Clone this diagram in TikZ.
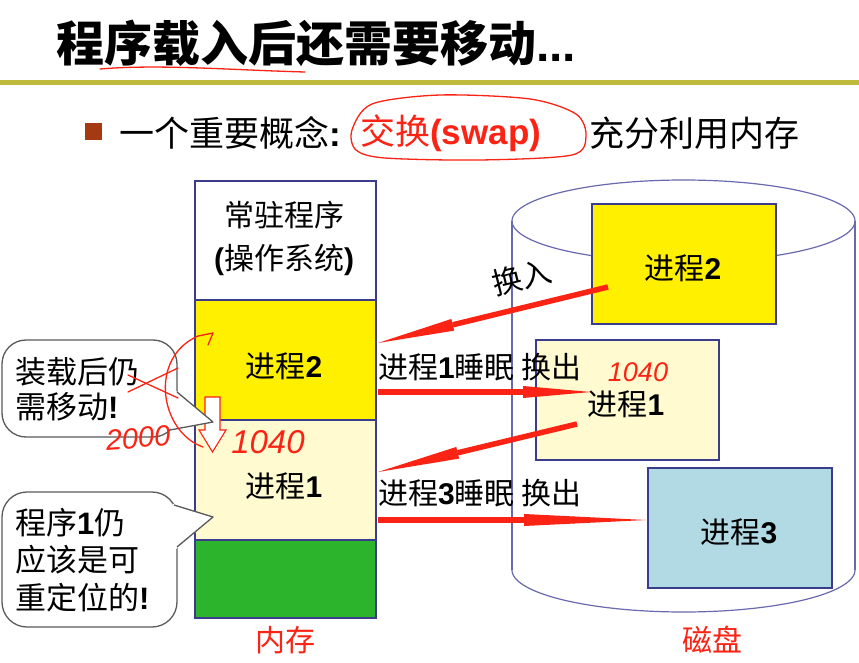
\documentclass[tikz,border=0pt]{standalone}
\usepackage{fontspec}
\setmainfont{Noto Sans CJK SC}
\newfontfamily\lat{Liberation Sans}
\usetikzlibrary{calc}
\definecolor{redA}{RGB}{250,35,20}
\definecolor{oliveline}{RGB}{189,186,60}
\definecolor{memborder}{RGB}{60,60,140}
\definecolor{diskline}{RGB}{105,105,175}
\definecolor{pyellow}{RGB}{255,240,0}
\definecolor{plight}{RGB}{255,250,208}
\definecolor{pgreen}{RGB}{44,180,44}
\definecolor{pblue}{RGB}{178,218,228}
\definecolor{bulletbrown}{RGB}{165,58,18}
\definecolor{calloutline}{RGB}{90,90,90}
\newcommand{\fs}[2]{\fontsize{#1}{#2}\selectfont}
\newcommand{\dg}[1]{{\lat\bfseries #1}}
% thick red swap arrow with a long thin head: start, end, head length
\newcommand{\swaparr}[3]{%
  \coordinate (hb) at ($(#2)!#3!(#1)$);
  \draw[swaparrow] (#1) -- (hb);
  \fill[redA] ($(hb)!6pt!90:(#2)$) -- (#2) -- ($(hb)!6pt!-90:(#2)$) -- cycle;}
\begin{document}
\begin{tikzpicture}[x=1pt,y=-1pt,
  memblk/.style={draw=memborder,line width=1.5pt,minimum width=181pt,inner sep=0pt},
  dskblk/.style={draw=memborder,line width=1.5pt,minimum width=184pt,minimum height=120pt,inner sep=0pt},
  swaparrow/.style={draw=redA,line width=5.5pt},
  hand/.style={draw=redA,line width=1.3pt,line cap=round,line join=round},
  lbl/.style={inner sep=0pt,font=\fs{30}{36}},
  handtext/.style={inner sep=0pt,text=redA,font=\lat\itshape\fs{29}{29}},
  cbox/.style={draw=calloutline,line width=1.3pt,fill=white},
  cptr/.style={draw=calloutline,line width=1.3pt,line join=round}
]
\useasboundingbox (0,0) rectangle (859,663);
\fill[white] (0,0) rectangle (859,663);

% title
\node[anchor=west,inner sep=0pt,font=\fs{48}{52}\bfseries] (title) at (56,43) {程序载入后还需要移动\dg{...}};
\draw[oliveline,line width=5pt] (0,83) -- (859,83);

% bullet line
\node[fill=bulletbrown,minimum size=17pt,inner sep=0pt] (bullet) at (93.5,131.5) {};
\node[anchor=west,inner sep=0pt,font=\fs{35}{40}] (bt) at (119,133) {一个重要概念\dg{:}};
\node[anchor=west,inner sep=0pt,font=\fs{35}{40},text=redA] (swap) at (360,133) {交换\dg{(swap)}};
\node[anchor=west,inner sep=0pt,font=\fs{35}{40}] (rest) at (589,133) {充分利用内存};

% disk cylinder
\draw[diskline,line width=1.2pt] plot[domain=0:360,samples=140,smooth] ({683.5+171.5*cos(\x)},{221+41*sin(\x)});
\draw[diskline,line width=1.2pt] (512,221) -- (512,570);
\draw[diskline,line width=1.2pt] (855,221) -- (855,570);
\draw[diskline,line width=1.2pt] plot[domain=0:180,samples=90,smooth] ({683.5+171.5*cos(\x)},{570+42*sin(\x)});

% disk blocks
\node[dskblk,fill=pyellow] (d2) at (684,264) {};
\node[dskblk,fill=plight,minimum width=183pt] (d1) at (627.5,400) {};
\node[dskblk,fill=pblue] (d3) at (740,528) {};
\node[lbl] (d2t) at (683,268) {进程\dg{2}};
\node[lbl] (d1t) at (626,404) {进程\dg{1}};
\node[lbl] (d3t) at (739,532) {进程\dg{3}};

% memory column
\node[memblk,fill=white,minimum height=119pt] (os) at (285.5,240.5) {};
\node[memblk,fill=pyellow,minimum height=120pt] (m2) at (285.5,360) {};
\node[memblk,fill=plight,minimum height=120pt] (m1) at (285.5,480) {};
\node[memblk,fill=pgreen,minimum height=78pt] (mg) at (285.5,579) {};
\node[lbl,align=center,font=\fs{30}{43}] (ost) at (284,238) {常驻程序\\\dg{(}操作系统\dg{)}};
\node[lbl] (m2t) at (284,366) {进程\dg{2}};
\node[lbl] (m1t) at (284,486) {进程\dg{1}};
\node[lbl,text=redA] (memlbl) at (285,640) {内存};
\node[lbl,text=redA] (disklbl) at (712,640) {磁盘};

% swap arrows
\coordinate (a1s) at (608,287); \coordinate (a1e) at (378,343);
\coordinate (a2s) at (378,392); \coordinate (a2e) at (591,392);
\coordinate (a3s) at (577,424); \coordinate (a3e) at (378,472);
\coordinate (a4s) at (378,520); \coordinate (a4e) at (646,520);
\swaparr{a1s}{a1e}{77pt}
\swaparr{a2s}{a2e}{68pt}
\swaparr{a3s}{a3e}{82pt}
\swaparr{a4s}{a4e}{122pt}
\node[lbl,rotate=14] (l1) at (522,277) {换入};
\node[lbl,anchor=west] (l2) at (378,367) {进程\dg{1}睡眠 换出};
\node[lbl,anchor=west] (l4) at (378,493) {进程\dg{3}睡眠 换出};

% block arrow showing the move
\draw[redA,line width=1.1pt,fill=white,line join=miter] (205,397) -- (220,397) -- (220,430) -- (226,430) -- (212.5,452) -- (199,430) -- (205,430) -- cycle;

% callout 1
\draw[cbox,rounded corners=24pt] (2,340) rectangle (177,437);
\fill[white] (176,391) -- (213,422) -- (170,431) -- cycle;
\draw[cptr] (177,392) -- (213,422) -- (170,430);
\node[lbl,anchor=west,align=left,font=\fs{31}{35}] (c1t) at (15,389) {装载后仍\\需移动\dg{!}};

% callout 2
\draw[cbox,rounded corners=25pt] (2,492) rectangle (177,627);
\fill[white] (173,504) -- (213,517) -- (176,549) -- cycle;
\draw[cptr] (174,505) -- (213,517) -- (177,547);
\node[lbl,anchor=west,align=left,font=\fs{31}{37.5}] (c2t) at (15,560) {程序\dg{1}仍\\应该是可\\重定位的\dg{!}};

% handwritten annotations
\draw[hand] (100,69) .. controls (160,64) and (230,70) .. (305,72);
\draw[hand] plot[smooth cycle] coordinates {(352,130) (372,104) (440,95) (530,99) (576,114) (586,136) (572,155) (480,160) (385,158) (356,150)};
\draw[hand] (203,447) .. controls (160,432) and (148,358) .. (198,336) -- (213,333) -- (208,345);
\draw[hand] (128,392) -- (178,368);
\draw[hand] (128,375) -- (178,398);
\node[handtext,rotate=4] (h2000) at (138,438) {2000};
\node[handtext,font=\lat\itshape\fs{33}{33}] (h1040a) at (268,442) {1040};
\node[handtext,font=\lat\itshape\fs{27}{27}] (h1040b) at (638,372) {1040};
\end{tikzpicture}
\end{document}
